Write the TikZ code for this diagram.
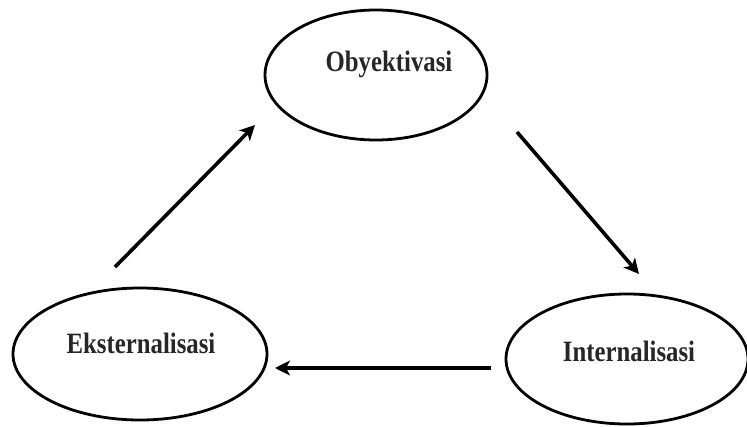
\documentclass[tikz,border=0pt]{standalone}
\usepackage{fontspec}
\setmainfont{Liberation Serif}
\newfontfamily\condfont[FakeStretch=0.84]{Liberation Serif}
\usetikzlibrary{arrows.meta}
\begin{document}
\begin{tikzpicture}[x=1pt,y=-1pt,
  ell/.style={draw, line width=2.8pt},
  lbl/.style={font=\condfont\bfseries\fontsize{29.5}{31}\selectfont, text=black!85},
  arr/.style={line width=3.6pt, -{Stealth[length=15pt,width=15pt,inset=4pt]}}]
\useasboundingbox (0,0) rectangle (747,426);
\draw[ell] (376,75) ellipse [x radius=111, y radius=65];
\draw[ell] (140,354) ellipse [x radius=127, y radius=66];
\draw[ell] (627,359) ellipse [x radius=121, y radius=65];
\node[lbl] (obj) at (389,64) {Obyektivasi};
\node[lbl] (eks) at (141,343) {Eksternalisasi};
\node[lbl] (int) at (629,351) {Internalisasi};
\coordinate (a1) at (115,267);
\coordinate (a2) at (255,125);
\coordinate (b1) at (517,132);
\coordinate (b2) at (639,274);
\coordinate (c1) at (491,368);
\coordinate (c2) at (275,368);
\draw[arr] (a1) -- (a2);
\draw[arr] (b1) -- (b2);
\draw[arr] (c1) -- (c2);
\end{tikzpicture}
\end{document}
